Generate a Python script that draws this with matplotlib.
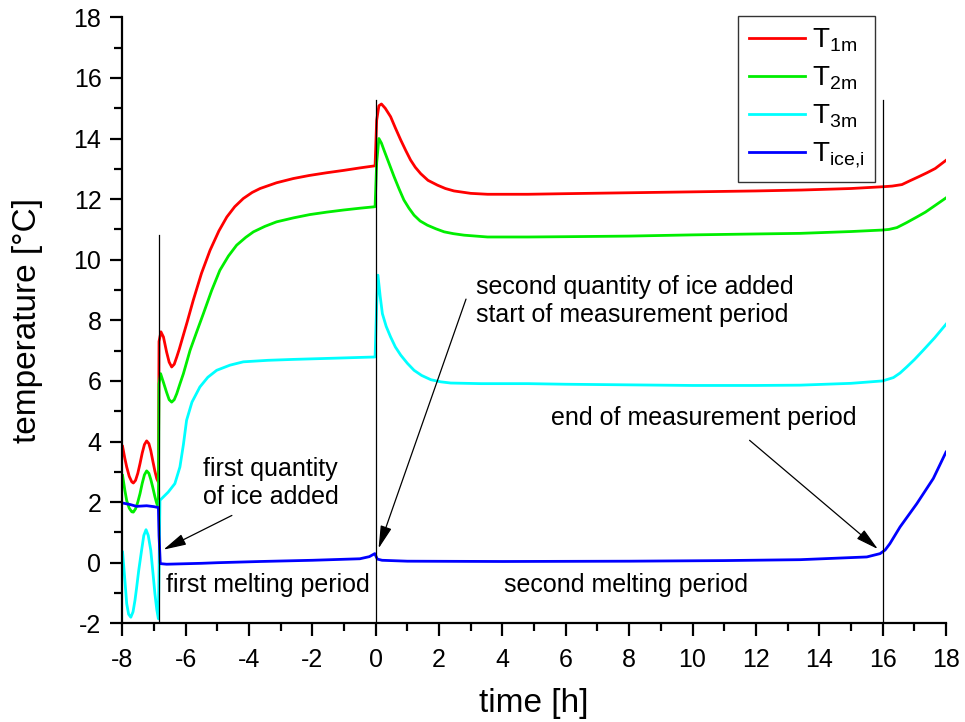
import matplotlib
matplotlib.use("Agg")
import matplotlib.pyplot as plt
from matplotlib.ticker import MultipleLocator

plt.rcParams['font.family'] = ['Liberation Sans', 'DejaVu Sans']
plt.rcParams['mathtext.fontset'] = 'custom'
plt.rcParams['mathtext.rm'] = 'Liberation Sans'
plt.rcParams['mathtext.it'] = 'Liberation Sans'
plt.rcParams['mathtext.default'] = 'regular'
plt.rcParams['axes.unicode_minus'] = False

# ---------------- data ----------------
t_red = [-7.99, -7.92, -7.86, -7.78, -7.70, -7.65, -7.58, -7.51, -7.44, -7.37, -7.30, -7.23,
         -7.16, -7.10, -7.04, -6.97, -6.91, -6.86, -6.84, -6.78, -6.70, -6.60, -6.52, -6.44,
         -6.36, -6.28, -6.20, -6.12, -5.95, -5.76, -5.50, -5.23, -4.95, -4.70, -4.45, -4.18,
         -3.90, -3.65, -3.13, -2.60, -2.10, -1.55, -1.00, -0.50, -0.02, 0.03, 0.10, 0.18,
         0.30, 0.47, 0.62, 0.79, 0.95, 1.10, 1.25, 1.42, 1.65, 1.95, 2.20, 2.47, 3.00, 3.53,
         4.80, 6.0, 8.0, 10.0, 12.0, 13.44, 15.0, 16.03, 16.30, 16.61, 16.85, 17.14, 17.40,
         17.66, 18.0]
y_red = [3.84, 3.45, 3.16, 2.85, 2.67, 2.63, 2.72, 2.95, 3.27, 3.62, 3.90, 4.02,
         3.93, 3.70, 3.38, 3.02, 2.77, 2.66, 7.30, 7.62, 7.45, 6.95, 6.62, 6.46,
         6.55, 6.79, 7.05, 7.34, 7.95, 8.66, 9.55, 10.31, 10.95, 11.41, 11.75, 12.02,
         12.22, 12.35, 12.54, 12.68, 12.78, 12.87, 12.95, 13.03, 13.10, 14.6, 15.08, 15.14,
         15.00, 14.72, 14.35, 13.95, 13.60, 13.29, 13.05, 12.84, 12.62, 12.46, 12.35, 12.27, 12.19, 12.16,
         12.16, 12.18, 12.21, 12.24, 12.27, 12.30, 12.35, 12.41, 12.43, 12.48, 12.60, 12.74, 12.87,
         13.01, 13.28]

t_green = [-7.99, -7.92, -7.86, -7.78, -7.70, -7.65, -7.58, -7.51, -7.44, -7.37, -7.30, -7.23,
           -7.16, -7.10, -7.04, -6.97, -6.91, -6.86, -6.84, -6.79, -6.70, -6.60, -6.52, -6.44,
           -6.36, -6.28, -6.18, -6.07, -5.86, -5.65, -5.44, -5.18, -4.92, -4.65, -4.39, -4.10,
           -3.86, -3.50, -3.13, -2.60, -2.08, -1.55, -1.02, -0.50, -0.02, 0.03, 0.10, 0.18,
           0.26, 0.42, 0.58, 0.74, 0.89, 1.05, 1.21, 1.40, 1.63, 1.90, 2.16, 2.45, 2.79, 3.53,
           4.80, 6.0, 8.0, 10.0, 12.0, 13.40, 15.0, 16.00, 16.20, 16.45, 16.75, 17.08, 17.35,
           17.60, 18.0]
y_green = [2.88, 2.40, 2.05, 1.80, 1.68, 1.67, 1.78, 2.00, 2.28, 2.62, 2.90, 3.03,
           2.95, 2.75, 2.50, 2.18, 1.95, 1.84, 5.90, 6.24, 5.95, 5.62, 5.38, 5.30,
           5.38, 5.58, 5.90, 6.24, 7.01, 7.62, 8.22, 8.98, 9.65, 10.12, 10.48, 10.74,
           10.92, 11.10, 11.25, 11.38, 11.49, 11.57, 11.64, 11.70, 11.75, 13.2, 14.00, 13.85,
           13.62, 13.18, 12.74, 12.33, 11.97, 11.70, 11.47, 11.28, 11.14, 11.02, 10.92, 10.86, 10.81, 10.75,
           10.75, 10.76, 10.78, 10.82, 10.85, 10.87, 10.93, 10.98, 11.00, 11.06, 11.22, 11.41, 11.57,
           11.75, 12.04]

t_cyan = [-7.99, -7.92, -7.86, -7.80, -7.73, -7.66, -7.60, -7.55, -7.48, -7.39, -7.32, -7.25,
          -7.18, -7.10, -7.03, -6.97, -6.91, -6.86, -6.83, -6.81,
          -6.55, -6.34, -6.18, -6.07, -5.97, -5.80, -5.55, -5.30, -5.02, -4.60, -4.18, -3.40,
          -2.60, -1.30, -0.02, 0.03, 0.07, 0.14, 0.21, 0.33, 0.47, 0.62, 0.79, 1.00, 1.21,
          1.45, 1.74, 2.05, 2.37, 3.32, 4.80, 6.0, 8.0, 10.0, 12.0, 13.39, 15.0, 16.00,
          16.34, 16.55, 16.76, 17.00, 17.28, 17.64, 18.0]
y_cyan = [0.35, -0.55, -1.35, -1.70, -1.80, -1.62, -1.25, -0.85, -0.25, 0.41, 0.90, 1.09,
          0.90, 0.41, -0.35, -1.02, -1.55, -1.85, 0.5, 2.06,
          2.33, 2.61, 3.16, 3.90, 4.70, 5.30, 5.80, 6.12, 6.35, 6.52, 6.63, 6.68,
          6.71, 6.75, 6.79, 8.5, 9.49, 8.80, 8.22, 7.80, 7.45, 7.12, 6.85, 6.58, 6.35,
          6.18, 6.04, 5.97, 5.93, 5.91, 5.91, 5.89, 5.87, 5.85, 5.85, 5.86, 5.92, 6.00,
          6.11, 6.26, 6.46, 6.70, 7.01, 7.42, 7.87]

t_blue = [-7.99, -7.75, -7.55, -7.23, -7.00, -6.86, -6.84, -6.80, -6.60, -5.50, -5.00, -3.65,
          -2.00, -0.50, -0.20, -0.03, 0.05, 0.20, 1.00, 4.00, 8.00, 11.00, 13.40, 15.50,
          15.92, 16.08, 16.23, 16.55, 17.08, 17.60, 18.0]
y_blue = [1.97, 1.92, 1.86, 1.88, 1.85, 1.82, 0.9, -0.03, -0.05, -0.02, 0.00, 0.04,
          0.08, 0.13, 0.20, 0.30, 0.12, 0.08, 0.05, 0.04, 0.05, 0.07, 0.10, 0.19,
          0.30, 0.42, 0.63, 1.18, 1.95, 2.78, 3.65]

series_labels = ['T$_{1m}$', 'T$_{2m}$', 'T$_{3m}$', 'T$_{ice{,}i}$']
series_colors = ['#FF0000', '#00EE00', '#00FFFF', '#0000FF']

event_times = [-6.83, 0.0, 16.0]
event_tops = [10.8, 15.27, 15.28]

x_ticks = list(range(-8, 19, 2))
y_ticks = list(range(-2, 19, 2))

# ---------------- figure ----------------
fig = plt.figure(figsize=(9.65, 7.22), dpi=100)
ax = fig.add_axes([0.1267, 0.1367, 0.8536, 0.8393])

for (t, y), lab, col in zip([(t_red, y_red), (t_green, y_green), (t_cyan, y_cyan), (t_blue, y_blue)],
                            series_labels, series_colors):
    ax.plot(t, y, color=col, lw=2.0, label=lab, solid_joinstyle='round')

for xe, top in zip(event_times, event_tops):
    ax.plot([xe, xe], [-2, top], color='black', lw=0.9)

ax.set_xlim(-8, 18)
ax.set_ylim(-2, 18)
ax.set_xticks(x_ticks)
ax.set_yticks(y_ticks)
ax.xaxis.set_minor_locator(MultipleLocator(1))
ax.yaxis.set_minor_locator(MultipleLocator(1))
ax.spines['top'].set_visible(False)
ax.spines['right'].set_visible(False)
ax.spines['left'].set_linewidth(1.6)
ax.spines['bottom'].set_linewidth(1.6)
ax.tick_params(which='major', direction='out', length=9, width=1.6, labelsize=18, pad=6)
ax.tick_params(axis='x', which='major', pad=9)
ax.tick_params(which='minor', direction='out', length=5.5, width=1.6)

ax.set_xlabel('time [h]', fontsize=24, labelpad=11)
ax.set_ylabel('temperature [°C]', fontsize=24, labelpad=22)

arrow_kw = dict(arrowstyle='-|>,head_length=1.4,head_width=0.35', color='black', lw=0.9,
                shrinkA=0, shrinkB=0, mutation_scale=10)

ax.text(-5.45, 2.62, 'first quantity\nof ice added', fontsize=18, ha='left', va='center')
ax.annotate('', xy=(-6.70, 0.43), xytext=(-4.54, 1.56), arrowprops=arrow_kw)

ax.text(-6.62, -0.75, 'first melting period', fontsize=18, ha='left', va='center')

ax.text(3.16, 8.65, 'second quantity of ice added\nstart of measurement period', fontsize=18,
        ha='left', va='center')
ax.annotate('', xy=(0.09, 0.47), xytext=(2.85, 8.70), arrowprops=arrow_kw)

ax.text(5.53, 4.77, 'end of measurement period', fontsize=18, ha='left', va='center')
ax.annotate('', xy=(15.85, 0.45), xytext=(11.8, 4.04), arrowprops=arrow_kw)

ax.text(7.9, -0.75, 'second melting period', fontsize=18, ha='center', va='center')

leg = ax.legend(loc='upper right', bbox_to_anchor=(0.914, 1.003), fontsize=20,
                frameon=True, fancybox=False, edgecolor='black', handlelength=2.0,
                labelspacing=0.38, borderpad=0.4, handletextpad=0.25, borderaxespad=0)
leg.get_frame().set_linewidth(1.0)

fig.savefig('out.png', dpi=100)
